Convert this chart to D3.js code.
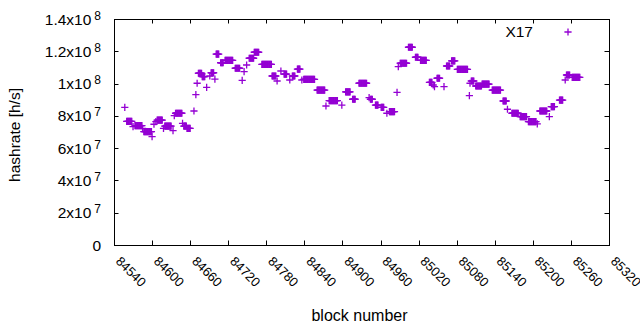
<!DOCTYPE html>
<html>
<head>
<meta charset="utf-8">
<script src="https://cdn.jsdelivr.net/npm/d3@7"></script>
<style>
  body { margin: 0; background: #fff; }
  svg { display: block; font-family: "Liberation Sans", Arial, sans-serif; }
</style>
</head>
<body>
<div id="chart"></div>
<script>
// hashrate runs: each run is a stretch of blocks that share one hashrate value
const runStart = [84557, 84560, 84570, 84573, 84585, 84587, 84600, 84603, 84606, 84608,
  84618, 84620, 84633, 84635, 84637, 84648, 84650, 84655, 84666, 84669,
  84671, 84673, 84679, 84686, 84691, 84693, 84699, 84701, 84708, 84715,
  84731, 84742, 84745, 84749, 84753, 84761, 84773, 84789, 84797, 84803,
  84808, 84817, 84821, 84829, 84836, 84839, 84860, 84874, 84879, 84899,
  84905, 84916, 84926, 84942, 84944, 84952, 84961, 84970, 84974, 84986,
  84988, 84991, 85004, 85015, 85023, 85037, 85043, 85045, 85049, 85060,
  85064, 85072, 85081, 85100, 85101, 85103, 85110, 85120, 85136, 85153,
  85160, 85167, 85180, 85193, 85207, 85211, 85226, 85229, 85242, 85251,
  85253, 85262];
const runEnd = [84557, 84568, 84570, 84584, 84585, 84599, 84600, 84603, 84606, 84616,
  84618, 84630, 84633, 84635, 84647, 84648, 84654, 84660, 84666, 84669,
  84671, 84678, 84683, 84686, 84691, 84697, 84699, 84705, 84712, 84727,
  84738, 84742, 84745, 84749, 84760, 84768, 84788, 84795, 84797, 84803,
  84812, 84817, 84825, 84833, 84836, 84856, 84872, 84874, 84892, 84899,
  84912, 84920, 84938, 84942, 84947, 84956, 84965, 84970, 84982, 84986,
  84988, 85001, 85010, 85019, 85032, 85041, 85043, 85045, 85053, 85060,
  85069, 85077, 85097, 85100, 85101, 85107, 85119, 85131, 85149, 85158,
  85160, 85177, 85190, 85205, 85207, 85222, 85226, 85234, 85247, 85251,
  85258, 85274];
const hashrate = [8.53e7, 7.66e7, 7.33e7, 7.39e7, 7.23e7, 7.02e7, 6.71e7, 7.48e7, 7.64e7, 7.74e7,
  7.23e7, 7.37e7, 7.08e7, 8.01e7, 8.16e7, 7.54e7, 7.37e7, 7.23e7, 8.30e7, 9.31e7,
  1.002e8, 1.064e8, 1.043e8, 9.77e7, 1.047e8, 1.067e8, 1.028e8, 1.183e8, 1.129e8, 1.144e8,
  1.095e8, 1.020e8, 1.074e8, 1.115e8, 1.157e8, 1.194e8, 1.119e8, 1.047e8, 1.016e8, 1.078e8,
  1.059e8, 1.022e8, 1.047e8, 1.090e8, 1.022e8, 1.026e8, 9.60e7, 8.61e7, 8.94e7, 8.67e7,
  9.48e7, 9.03e7, 1.002e8, 9.13e7, 9.03e7, 8.67e7, 8.53e7, 8.16e7, 8.26e7, 9.46e7,
  1.105e8, 1.126e8, 1.225e8, 1.163e8, 1.144e8, 1.008e8, 9.91e7, 9.81e7, 1.033e8, 9.81e7,
  1.109e8, 1.140e8, 1.088e8, 9.25e7, 1.002e8, 1.016e8, 9.85e7, 9.97e7, 9.60e7, 8.92e7,
  8.41e7, 8.16e7, 7.95e7, 7.64e7, 7.50e7, 8.30e7, 7.95e7, 8.57e7, 8.98e7, 1.022e8,
  1.053e8, 1.039e8];

const xTickValues = [84540, 84600, 84660, 84720, 84780, 84840, 84900, 84960, 85020, 85080, 85140, 85200, 85260, 85320];
const yTickValues = [0, 2e7, 4e7, 6e7, 8e7, 1e8, 1.2e8, 1.4e8];
const seriesName = "X17";

const width = 640, height = 330;
const margin = { top: 19, right: 31, bottom: 85, left: 114 };
const color = "#9400d3";
const arm = 3.6;

const svg = d3.select("#chart").append("svg")
  .attr("width", width).attr("height", height);

const x = d3.scaleLinear().domain([84540, 85320]).range([margin.left, width - margin.right]);
const y = d3.scaleLinear().domain([0, 1.4e8]).range([height - margin.bottom, margin.top]);

// one point per block
const points = [];
runStart.forEach((s, i) => {
  for (let b = s; b <= runEnd[i]; b++) points.push({ block: b, value: hashrate[i] });
});

const plus = (cx, cy) => `M${cx - arm},${cy}H${cx + arm}M${cx},${cy - arm}V${cy + arm}`;

// ticks on all four sides, pointing inward
const tickLen = 4.5;
const axisG = svg.append("g").attr("stroke", "#000").attr("stroke-width", 1);
yTickValues.forEach(v => {
  const yy = Math.round(y(v)) + 0.5;
  axisG.append("line").attr("x1", x.range()[0]).attr("x2", x.range()[0] + tickLen).attr("y1", yy).attr("y2", yy);
  axisG.append("line").attr("x1", x.range()[1]).attr("x2", x.range()[1] - tickLen).attr("y1", yy).attr("y2", yy);
});
xTickValues.forEach(v => {
  const xx = Math.round(x(v)) + 0.5;
  axisG.append("line").attr("x1", xx).attr("x2", xx).attr("y1", y.range()[0]).attr("y2", y.range()[0] - tickLen);
  axisG.append("line").attr("x1", xx).attr("x2", xx).attr("y1", y.range()[1]).attr("y2", y.range()[1] + tickLen);
});

// y tick labels in gnuplot style: 1.4x10^8
yTickValues.forEach(v => {
  const t = svg.append("text")
    .attr("x", 101).attr("y", y(v) + 5.5)
    .attr("text-anchor", "end")
    .style("font-size", "15.5px").attr("fill", "#000");
  if (v === 0) { t.text("0"); return; }
  const e = Math.floor(Math.log10(v));
  const m = +(v / Math.pow(10, e)).toFixed(1);
  t.append("tspan").text(`${m}x10`);
  t.append("tspan").attr("dx", 3).attr("dy", -5).style("font-size", "12px").text(e);
});

// x tick labels, rotated
xTickValues.forEach(v => {
  const xx = x(v) + 1, yy = 262;
  svg.append("text")
    .attr("transform", `translate(${xx},${yy}) rotate(45)`)
    .style("font-size", "13px").attr("fill", "#000")
    .text(v);
});

// frame
svg.append("rect")
  .attr("x", x.range()[0] + 0.5).attr("y", y.range()[1] + 0.5)
  .attr("width", x.range()[1] - x.range()[0]).attr("height", y.range()[0] - y.range()[1])
  .attr("fill", "none").attr("stroke", "#000").attr("stroke-width", 1);

// axis titles
svg.append("text")
  .attr("transform", `translate(20,${(y.range()[0] + y.range()[1]) / 2 + 3}) rotate(-90)`)
  .attr("text-anchor", "middle").style("font-size", "15.5px").text("hashrate [h/s]");
svg.append("text")
  .attr("x", (x.range()[0] + x.range()[1]) / 2 - 2).attr("y", 321)
  .attr("text-anchor", "middle").style("font-size", "16px").text("block number");

// points
svg.append("g").selectAll("path").data(points).enter().append("path")
  .attr("d", d => plus(x(d.block), y(d.value)))
  .attr("stroke", color).attr("stroke-width", 1.3).attr("fill", "none");

// legend
svg.append("text").attr("x", 533).attr("y", 37).attr("text-anchor", "end")
  .style("font-size", "15.5px").text(seriesName);
svg.append("path").attr("d", plus(568, 32))
  .attr("stroke", color).attr("stroke-width", 1.3).attr("fill", "none");
</script>
</body>
</html>
